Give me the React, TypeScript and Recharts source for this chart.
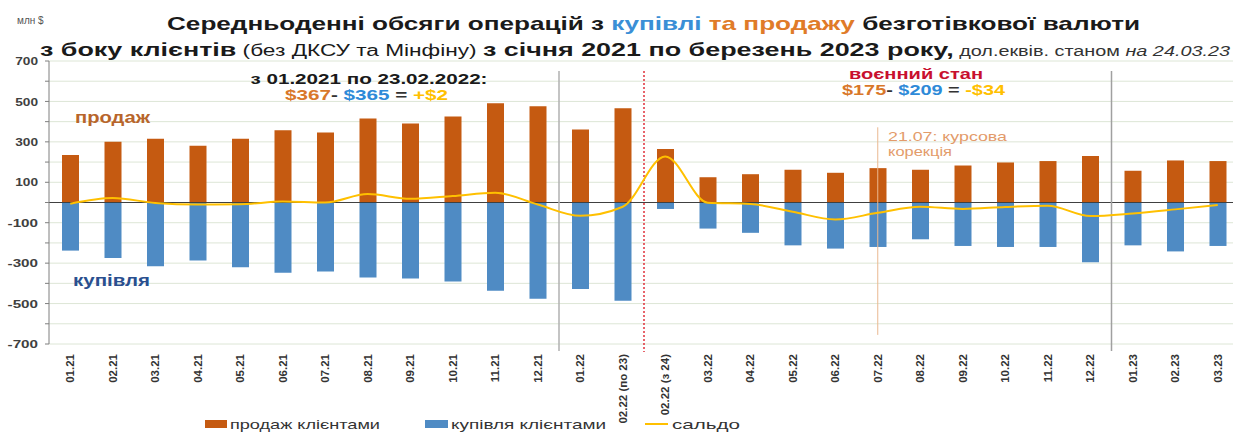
import React from 'react';
import { ComposedChart, Bar, Line, XAxis, YAxis, CartesianGrid, ReferenceLine } from 'recharts';

const months = [
  '01.21', '02.21', '03.21', '04.21', '05.21', '06.21', '07.21', '08.21', '09.21', '10.21', '11.21', '12.21',
  '01.22', '02.22 (по 23)', '02.22 (з 24)', '03.22', '04.22', '05.22', '06.22', '07.22', '08.22', '09.22',
  '10.22', '11.22', '12.22', '01.23', '02.23', '03.23',
];
const sales = [235, 300, 315, 281, 315, 358, 346, 416, 391, 426, 491, 476, 361, 466, 265, 125, 140, 162, 147, 170, 162, 183, 198, 205, 230, 157, 208, 205];
const purchases = [-238, -275, -315, -287, -320, -348, -341, -371, -376, -391, -436, -476, -428, -486, -32, -129, -150, -212, -228, -220, -182, -215, -220, -220, -296, -212, -242, -215];
const balance = [-6, 22, -2, -10, -9, 5, 0, 42, 18, 32, 48, -10, -66, -21, 228, -1, -7, -46, -84, -51, -21, -32, -22, -16, -67, -54, -34, -12];
const yTicks = [-700, -600, -500, -400, -300, -200, -100, 0, 100, 200, 300, 400, 500, 600, 700];

const data = months.map((m, i) => ({ m, sale: sales[i], buy: purchases[i], saldo: balance[i] }));

const FONT = '"Liberation Sans", Arial, sans-serif';
const ORANGE = '#c55a11';
const BLUE = '#4f8bc4';
const GOLD = '#ffc000';

function XTick(props: any) {
  const { x, y, payload } = props;
  const ty = y + 8;
  return (
    <text
      x={x}
      y={ty}
      dy="0.36em"
      transform={`rotate(-90, ${x}, ${ty})`}
      textAnchor="end"
      fontSize={11.5}
      fontWeight="bold"
      fontFamily={FONT}
      fill="#333"
    >
      {payload.value}
    </text>
  );
}

function YTick(props: any) {
  const { x, y, payload } = props;
  const v = payload.value as number;
  if (v % 200 === 0) return null;
  const s = String(v);
  return (
    <text
      x={x + 1}
      y={y}
      dy="0.36em"
      textAnchor="end"
      fontSize={11.5}
      fontWeight="bold"
      fontFamily={FONT}
      fill="#404040"
      textLength={s.length * 7.6}
      lengthAdjust="spacingAndGlyphs"
    >
      {s}
    </text>
  );
}

function Overlay() {
  return (
    <svg width={1233} height={433} style={{ position: 'absolute', left: 0, top: 0, pointerEvents: 'none' }} fontFamily={FONT}>
      <text x={17} y={24} fontSize={10} fill="#555">млн $</text>
      <text x={167} y={30} fontSize={19} fontWeight="bold" fill="#1a1a1a" textLength={973} lengthAdjust="spacingAndGlyphs">
        Середньоденні обсяги операцій з <tspan fill="#3a8fd6">купівлі</tspan>
        <tspan fill="#e07b28"> та продажу</tspan> безготівкової валюти
      </text>
      <text x={40} y={56} fill="#1a1a1a" textLength={1190} lengthAdjust="spacingAndGlyphs">
        <tspan fontSize={19} fontWeight="bold">з боку клієнтів</tspan>
        <tspan fontSize={16}>  (без ДКСУ та Мінфіну)  </tspan>
        <tspan fontSize={19} fontWeight="bold">з січня 2021 по березень 2023 року,</tspan>
        <tspan fontSize={14} fill="#333"> дол.еквів. станом </tspan>
        <tspan fontSize={14} fill="#333" fontStyle="italic">на 24.03.23</tspan>
      </text>

      <text x={369} y={84} fontSize={14.5} fontWeight="bold" fill="#1a1a1a" textAnchor="middle" textLength={237} lengthAdjust="spacingAndGlyphs">
        з 01.2021 по 23.02.2022:
      </text>
      <text x={285} y={100} fontSize={14.5} fontWeight="bold" fill="#333" textLength={163} lengthAdjust="spacingAndGlyphs">
        <tspan fill="#d9782a">$367</tspan>- <tspan fill="#2e8ad8">$365</tspan> = <tspan fill={GOLD}>+$2</tspan>
      </text>
      <text x={75} y={123} fontSize={16} fontWeight="bold" fill="#b8652b" textLength={75} lengthAdjust="spacingAndGlyphs">продаж</text>
      <text x={73} y={286} fontSize={16} fontWeight="bold" fill="#2a4f8f" textLength={77} lengthAdjust="spacingAndGlyphs">купівля</text>

      <text x={849} y={79} fontSize={14.5} fontWeight="bold" fill="#c8102e" textLength={134} lengthAdjust="spacingAndGlyphs">воєнний стан</text>
      <text x={842} y={95} fontSize={15} fontWeight="bold" fill="#333" textLength={163} lengthAdjust="spacingAndGlyphs">
        <tspan fill="#d9782a">$175</tspan>- <tspan fill="#2e8ad8">$209</tspan> = <tspan fill={GOLD}>-$34</tspan>
      </text>
      <text x={888} y={141} fontSize={13} fill="#e39b6a" textLength={119} lengthAdjust="spacingAndGlyphs">21.07: курсова</text>
      <text x={888} y={156} fontSize={13} fill="#e39b6a" textLength={64} lengthAdjust="spacingAndGlyphs">корекція</text>

      <rect x={205} y={420} width={22} height={8} fill={ORANGE} />
      <text x={230} y={429} fontSize={13} fill="#333" textLength={150} lengthAdjust="spacingAndGlyphs">продаж  клієнтами</text>
      <rect x={425} y={420} width={23} height={8} fill={BLUE} />
      <text x={451} y={429} fontSize={13} fill="#333" textLength={155} lengthAdjust="spacingAndGlyphs">купівля   клієнтами</text>
      <line x1={645} y1={424} x2={668} y2={424} stroke={GOLD} strokeWidth={2} />
      <text x={672} y={429} fontSize={13} fill="#333" textLength={68} lengthAdjust="spacingAndGlyphs">сальдо</text>
    </svg>
  );
}

export default function App() {
  return (
    <div style={{ position: 'absolute', left: 0, top: 0, width: 1233, height: 433, overflow: 'hidden', background: '#fff' }}>
      <ComposedChart
        width={1240}
        height={433}
        data={data}
        stackOffset="sign"
        margin={{ top: 61, right: 1, left: 0, bottom: 0 }}
      >
        <CartesianGrid vertical={false} stroke="#dde6d6" />
        <XAxis
          dataKey="m"
          interval={0}
          height={89}
          axisLine={false}
          tickLine={false}
          tickSize={0}
          tick={<XTick />}
        />
        <YAxis
          width={49}
          domain={[-700, 700]}
          ticks={yTicks}
          interval={0}
          axisLine={{ stroke: '#7f7f7f' }}
          tickLine={{ stroke: '#7f7f7f' }}
          tickSize={4}
          tickMargin={8}
          tick={<YTick />}
        />
        <Bar dataKey="sale" stackId="s" fill={ORANGE} barSize={17} isAnimationActive={false} />
        <Bar dataKey="buy" stackId="s" fill={BLUE} barSize={17} isAnimationActive={false} />
        <ReferenceLine y={0} stroke="#404040" strokeWidth={1} />
        <ReferenceLine position="start" ifOverflow="visible" segment={[{ x: '01.22', y: 650 }, { x: '01.22', y: -735 }]} stroke="#b0b0b0" strokeWidth={1.5} />
        <ReferenceLine position="start" ifOverflow="visible" segment={[{ x: '02.22 (з 24)', y: 650 }, { x: '02.22 (з 24)', y: -740 }]} stroke="#e0303a" strokeWidth={1.5} strokeDasharray="2 2" />
        <ReferenceLine position="start" ifOverflow="visible" segment={[{ x: '01.23', y: 650 }, { x: '01.23', y: -735 }]} stroke="#a0a0a0" strokeWidth={1.5} />
        <ReferenceLine position="middle" ifOverflow="visible" segment={[{ x: '07.22', y: 372 }, { x: '07.22', y: -655 }]} stroke="#eab890" strokeWidth={1} />
        <Line type="monotone" dataKey="saldo" stroke={GOLD} strokeWidth={2} dot={false} isAnimationActive={false} />
      </ComposedChart>
      <Overlay />
    </div>
  );
}
